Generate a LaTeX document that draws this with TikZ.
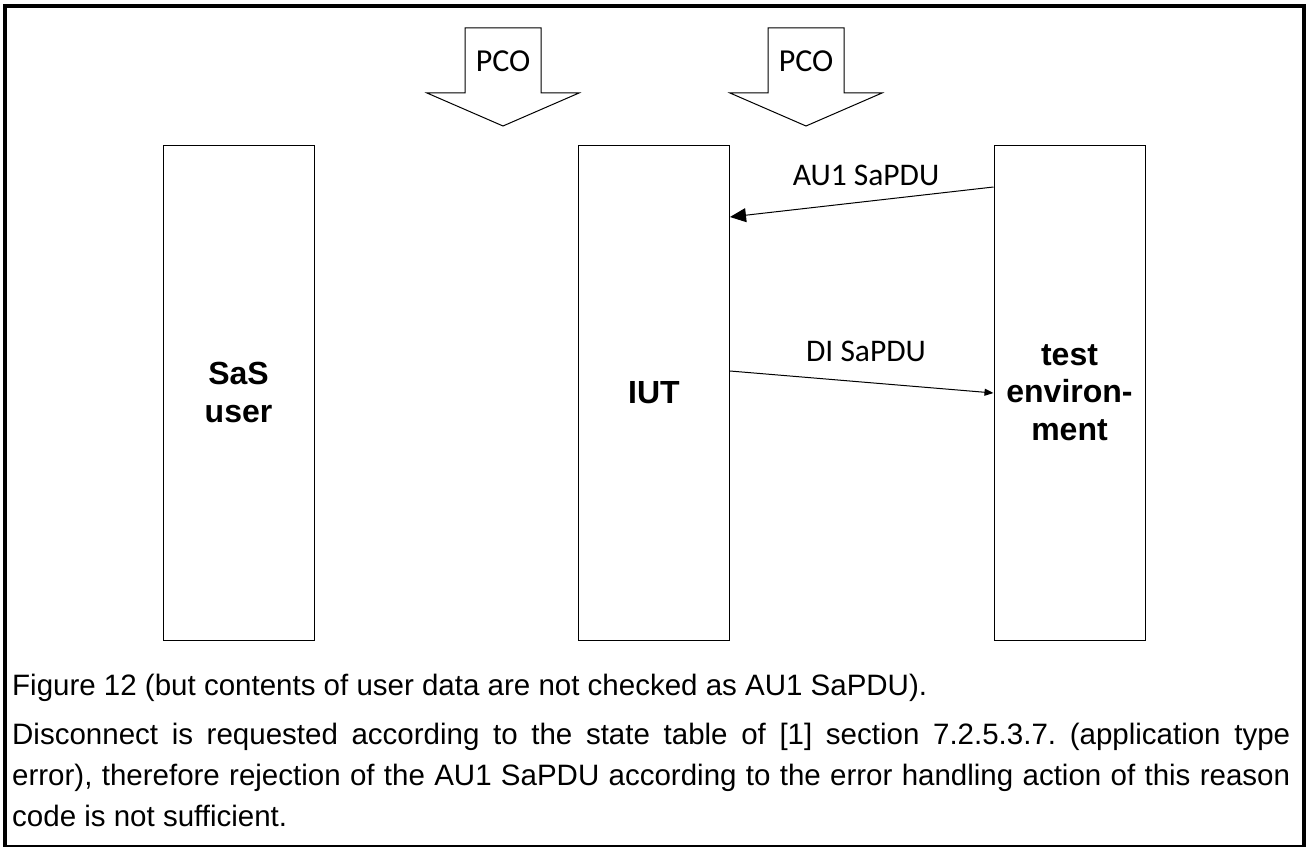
\documentclass[tikz,border=0pt]{standalone}
\usepackage{fontspec}
\setmainfont{Liberation Sans}
\newfontfamily\calfont{Carlito}
\usetikzlibrary{arrows.meta}
\frenchspacing
\tikzset{
  entity/.style={draw=black, line width=1pt, minimum width=151pt, minimum height=495pt,
    inner sep=0pt, align=center, font=\fontsize{32}{37.5}\selectfont\bfseries},
  pcoshape/.style={draw=black, line width=1pt, fill=white},
  pcolabel/.style={font=\calfont\fontsize{32}{36}\selectfont, inner sep=0pt, anchor=base},
  msglabel/.style={font=\calfont\fontsize{31.5}{36}\selectfont, inner sep=0pt, anchor=base},
  bigmsg/.style={draw=black, line width=1pt, -{Triangle[length=16pt,width=14pt]}},
  smallmsg/.style={draw=black, line width=1pt, -{Triangle[length=9pt,width=7pt]}},
  bodytext/.style={font=\fontsize{29.5}{41}\selectfont, inner sep=0pt}
}
\begin{document}
\begin{tikzpicture}[x=1pt,y=-1pt]
\useasboundingbox (0,0) rectangle (1308,848);
% frame
\draw[line width=4pt, line join=miter] (5,846) -- (5,6) -- (1304,6) -- (1304,846);
\draw[line width=2pt] (3,846) -- (1306,846);
% PCO arrows
\draw[pcoshape] (465,28) -- (541,28) -- (541,93) -- (579,93) -- (503,126) -- (427,93) -- (465,93) -- cycle;
\node[pcolabel] (pco1) at (503,72) {PCO};
\draw[pcoshape] (768,28) -- (844,28) -- (844,93) -- (882,93) -- (806,126) -- (730,93) -- (768,93) -- cycle;
\node[pcolabel] (pco2) at (806,72) {PCO};
% entities
\node[entity] (sas) at (238.5,392.5) {SaS\\user};
\node[entity] (iut) at (654,392.5) {IUT};
\node[entity] (te) at (1069.5,392.5) {test\\environ-\\ment};
% messages
\draw[bigmsg] (te.west |- 0,187) -- (iut.east |- 0,217);
\node[msglabel] (au1) at (866,185) {AU1 SaPDU};
\draw[smallmsg] (iut.east |- 0,371) -- (te.west |- 0,393);
\node[msglabel] (di) at (866,361) {DI SaPDU};
% text
\node[bodytext, anchor=base west] (fig) at (12,695) {Figure 12 (but contents of user data are not checked as AU1 SaPDU).};
\node[bodytext, anchor=north west, text width=1278pt, align=justify] (para) at (12,722.5)
 {Disconnect is requested according to the state table of [1] section 7.2.5.3.7. (application type\linebreak
  error), therefore rejection of the AU1 SaPDU according to the error handling action of this reason\linebreak
  code is not sufficient.};
\end{tikzpicture}
\end{document}
